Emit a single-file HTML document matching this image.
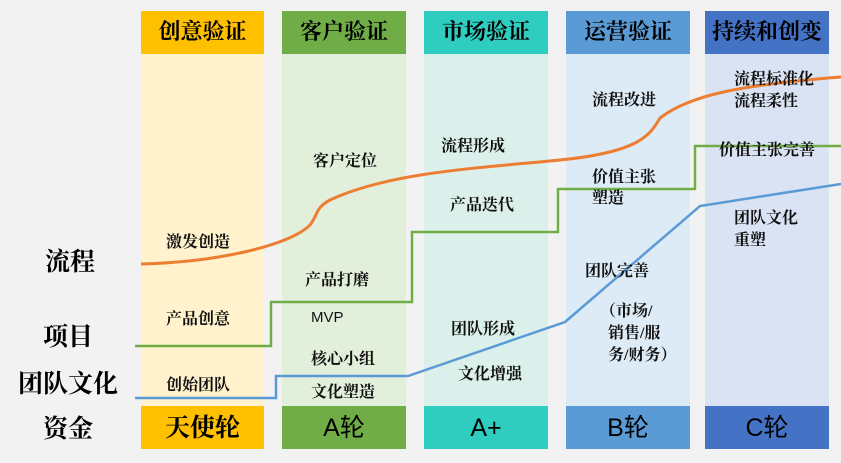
<!DOCTYPE html>
<html><head><meta charset="utf-8"><style>
body{margin:0;width:841px;height:463px;background:#f2f2f2;position:relative;overflow:hidden;font-family:"Liberation Serif","Noto Serif CJK SC",serif;font-weight:bold;color:#111}
.c{position:absolute}
.h{position:absolute;top:11px;height:43px;font-size:22px;text-align:center;line-height:41px;white-space:nowrap;overflow:hidden;color:#000}
.b{position:absolute;top:406px;height:43px;font-size:25px;text-align:center;line-height:45px;color:#000}
.t{position:absolute;font-size:16px;line-height:21px;white-space:nowrap}
.L{position:absolute;font-size:25px;left:0;width:140px;text-align:center;color:#000}
</style></head><body>
<div class="c" style="left:141px;top:54px;width:123px;height:352px;background:#fff2cc"></div>
<div class="c" style="left:282px;top:54px;width:124px;height:352px;background:#e2efda"></div>
<div class="c" style="left:424px;top:54px;width:124px;height:352px;background:#dbf0ea"></div>
<div class="c" style="left:566px;top:54px;width:124px;height:352px;background:#ddebf7"></div>
<div class="c" style="left:705px;top:54px;width:124px;height:352px;background:#dae3f3"></div>
<div class="h" style="left:141px;width:123px;background:#ffc000">创意验证</div>
<div class="h" style="left:282px;width:124px;background:#70ad47">客户验证</div>
<div class="h" style="left:424px;width:124px;background:#2ecdbf">市场验证</div>
<div class="h" style="left:566px;width:124px;background:#5b9bd5">运营验证</div>
<div class="h" style="left:705px;width:124px;background:#4472c4">持续和创变</div>
<div class="b" style="left:141px;width:123px;background:#ffc000">天使轮</div>
<div class="b" style="left:282px;width:124px;background:#70ad47;font-family:'Liberation Sans','Noto Sans CJK SC',sans-serif;font-weight:normal">A轮</div>
<div class="b" style="left:424px;width:124px;background:#2ecdbf;font-family:'Liberation Sans',sans-serif;font-weight:normal">A+</div>
<div class="b" style="left:566px;width:124px;background:#5b9bd5;font-family:'Liberation Sans','Noto Sans CJK SC',sans-serif;font-weight:normal">B轮</div>
<div class="b" style="left:705px;width:124px;background:#4472c4;font-family:'Liberation Sans','Noto Sans CJK SC',sans-serif;font-weight:normal">C轮</div>
<div class="L" style="top:242px;left:2px;width:136px">流程</div>
<div class="L" style="top:317px;left:0;width:136px">项目</div>
<div class="L" style="top:364px;left:0;width:136px">团队文化</div>
<div class="L" style="top:409px;left:0;width:136px">资金</div>
<svg class="c" style="left:0;top:0" width="841" height="463">
<path d="M141,264 C220,262 290,245 310,225 C318,215 315,208 330,200 C390,172 480,168 560,160 C640,152 650,135 660,118 C690,95 740,85 841,77" fill="none" stroke="#ed7d31" stroke-width="3"/>
<path d="M135,346 H271 V302 H412 V232 H558 V189 H695 V146 H841" fill="none" stroke="#70ad47" stroke-width="2.5"/>
<path d="M135,398 H276 V376 H408 L565,322 L700,206 L841,184" fill="none" stroke="#5b9bd5" stroke-width="2.5"/>
</svg>
<div class="t" style="left:166px;top:232px">激发创造</div>
<div class="t" style="left:166px;top:309px">产品创意</div>
<div class="t" style="left:166px;top:375px">创始团队</div>
<div class="t" style="left:313px;top:151px">客户定位</div>
<div class="t" style="left:305px;top:270px">产品打磨</div>
<div class="t" style="left:311px;top:307px;font-family:'Liberation Sans',sans-serif;font-weight:normal;font-size:15px">MVP</div>
<div class="t" style="left:311px;top:349px">核心小组</div>
<div class="t" style="left:311px;top:382px">文化塑造</div>
<div class="t" style="left:441px;top:136px">流程形成</div>
<div class="t" style="left:450px;top:195px">产品迭代</div>
<div class="t" style="left:451px;top:319px">团队形成</div>
<div class="t" style="left:458px;top:364px">文化增强</div>
<div class="t" style="left:592px;top:90px">流程改进</div>
<div class="t" style="left:592px;top:167px">价值主张<br>塑造</div>
<div class="t" style="left:585px;top:261px">团队完善</div>
<div class="t" style="left:600px;top:301px;line-height:22px">（市场/<br>&nbsp;&nbsp;销售/服<br>&nbsp;&nbsp;务/财务）</div>
<div class="t" style="left:734px;top:69px;line-height:22px">流程标准化<br>流程柔性</div>
<div class="t" style="left:719px;top:140px">价值主张完善</div>
<div class="t" style="left:734px;top:208px;line-height:22px">团队文化<br>重塑</div>
</body></html>
